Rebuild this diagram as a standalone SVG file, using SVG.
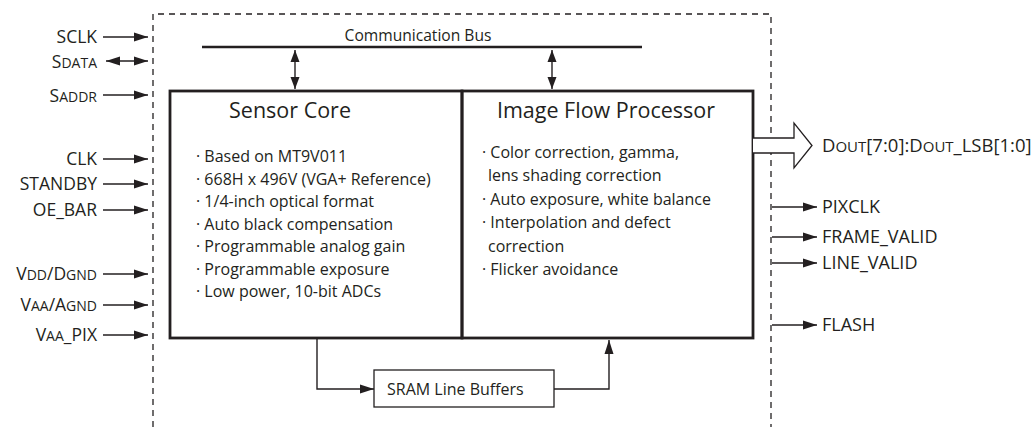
<svg xmlns="http://www.w3.org/2000/svg" width="1036" height="427" viewBox="0 0 1036 427">
<defs>
<style>
text{font-family:"Open Sans","Noto Sans","Liberation Sans",sans-serif;fill:#231f20}
.lbl{font-size:17.5px}
.sc{font-size:14px}
.body{font-size:16px}
.title{font-size:21.5px}
.ln{stroke:#231f20;stroke-width:1.4;fill:none}
.dash{stroke:#231f20;stroke-width:1.3;fill:none;stroke-dasharray:6 5}
</style>
<marker id="ah" markerUnits="userSpaceOnUse" markerWidth="16" markerHeight="12" refX="14" refY="5" orient="auto-start-reverse" viewBox="0 0 16 10">
<path d="M0,0.5 L14,5 L0,9.5 Z" fill="#231f20"/>
</marker>
<marker id="ah2" markerUnits="userSpaceOnUse" markerWidth="12" markerHeight="10" refX="12" refY="4.5" orient="auto-start-reverse" viewBox="0 0 12 9">
<path d="M0,0 L12,4.5 L0,9 Z" fill="#231f20"/>
</marker>
</defs>
<rect width="1036" height="427" fill="#fff"/>

<g id="boundary">
<path class="dash" d="M153,427 V14 H771 V427"/>
</g>

<g id="comm-bus">
<line x1="202" y1="47" x2="642" y2="47" stroke="#231f20" stroke-width="2.6"/>
<text x="418" y="41" text-anchor="middle" style="font-size:15.6px">Communication Bus</text>
</g>

<g id="sensor-core">
<rect x="170" y="91" width="292" height="247" fill="none" stroke="#231f20" stroke-width="2.8"/>
<text class="title" x="290" y="118" text-anchor="middle">Sensor Core</text>
<text class="body" x="196" y="162">· Based on MT9V011</text>
<text class="body" x="196" y="184.5">· 668H x 496V (VGA+ Reference)</text>
<text class="body" x="196" y="207">· 1/4-inch optical format</text>
<text class="body" x="196" y="229.5">· Auto black compensation</text>
<text class="body" x="196" y="252">· Programmable analog gain</text>
<text class="body" x="196" y="274.5">· Programmable exposure</text>
<text class="body" x="196" y="297">· Low power, 10-bit ADCs</text>
</g>

<g id="image-flow-processor">
<rect x="462" y="91" width="291" height="247" fill="none" stroke="#231f20" stroke-width="2.8"/>
<text class="title" x="606" y="118" text-anchor="middle">Image Flow Processor</text>
<text class="body" x="482" y="158">· Color correction, gamma,</text>
<text class="body" x="488" y="181">lens shading correction</text>
<text class="body" x="482" y="205">· Auto exposure, white balance</text>
<text class="body" x="482" y="228">· Interpolation and defect</text>
<text class="body" x="488" y="252">correction</text>
<text class="body" x="482" y="275">· Flicker avoidance</text>
</g>

<g id="sram-line-buffers">
<rect x="374" y="370" width="180" height="37" fill="none" stroke="#231f20" stroke-width="1.3"/>
<text x="387" y="395" style="font-size:16px">SRAM Line Buffers</text>
</g>

<g id="inputs">
<text class="lbl" x="97" y="43" text-anchor="end">SCLK</text>
<text class="lbl" x="97" y="68" text-anchor="end">S<tspan class="sc">DATA</tspan></text>
<text class="lbl" x="97" y="102" text-anchor="end">S<tspan class="sc">ADDR</tspan></text>
<text class="lbl" x="97" y="165" text-anchor="end">CLK</text>
<text class="lbl" x="97" y="190" text-anchor="end">STANDBY</text>
<text class="lbl" x="97" y="216" text-anchor="end">OE_BAR</text>
<text class="lbl" x="97" y="280" text-anchor="end">V<tspan class="sc">DD</tspan>/D<tspan class="sc">GND</tspan></text>
<text class="lbl" x="97" y="311" text-anchor="end">V<tspan class="sc">AA</tspan>/A<tspan class="sc">GND</tspan></text>
<text class="lbl" x="97" y="341" text-anchor="end">V<tspan class="sc">AA</tspan>_PIX</text>
</g>

<g id="outputs">
<path d="M753,138 H794 V123 L812,145.5 L794,168 V153 H753" fill="#fff" stroke="#231f20" stroke-width="1.3"/>
<text class="lbl" x="822" y="152" style="font-size:18.5px">D<tspan style="font-size:15px">OUT</tspan>[7:0]:D<tspan style="font-size:15px">OUT</tspan>_LSB[1:0]</text>
<text class="lbl" x="822" y="213" style="font-size:18px">PIXCLK</text>
<text class="lbl" x="822" y="243" style="font-size:18px">FRAME_VALID</text>
<text class="lbl" x="822" y="269" style="font-size:18px">LINE_VALID</text>
<text class="lbl" x="822" y="331" style="font-size:18px">FLASH</text>
</g>

<g id="connectors">
<line class="ln" x1="103" y1="37" x2="148" y2="37" marker-end="url(#ah)"/>
<line class="ln" x1="106" y1="61" x2="148" y2="61" marker-start="url(#ah)" marker-end="url(#ah)"/>
<line class="ln" x1="103" y1="95" x2="148" y2="95" marker-end="url(#ah)"/>
<line class="ln" x1="103" y1="159" x2="148" y2="159" marker-end="url(#ah)"/>
<line class="ln" x1="103" y1="184" x2="148" y2="184" marker-end="url(#ah)"/>
<line class="ln" x1="103" y1="210" x2="148" y2="210" marker-end="url(#ah)"/>
<line class="ln" x1="103" y1="274" x2="148" y2="274" marker-end="url(#ah)"/>
<line class="ln" x1="103" y1="305" x2="148" y2="305" marker-end="url(#ah)"/>
<line class="ln" x1="103" y1="335" x2="148" y2="335" marker-end="url(#ah)"/>
<line class="ln" x1="295" y1="50" x2="295" y2="89" marker-start="url(#ah2)" marker-end="url(#ah2)"/>
<line class="ln" x1="552" y1="50" x2="552" y2="89" marker-start="url(#ah2)" marker-end="url(#ah2)"/>
<line class="ln" x1="772" y1="207" x2="817" y2="207" marker-end="url(#ah)"/>
<line class="ln" x1="772" y1="237" x2="817" y2="237" marker-end="url(#ah)"/>
<line class="ln" x1="772" y1="263" x2="817" y2="263" marker-end="url(#ah)"/>
<line class="ln" x1="772" y1="325" x2="817" y2="325" marker-end="url(#ah)"/>
<path class="ln" d="M317,339 V389 H374" marker-end="url(#ah)"/>
<path class="ln" d="M554,389 H609 V340" marker-end="url(#ah)"/>
</g>
</svg>
